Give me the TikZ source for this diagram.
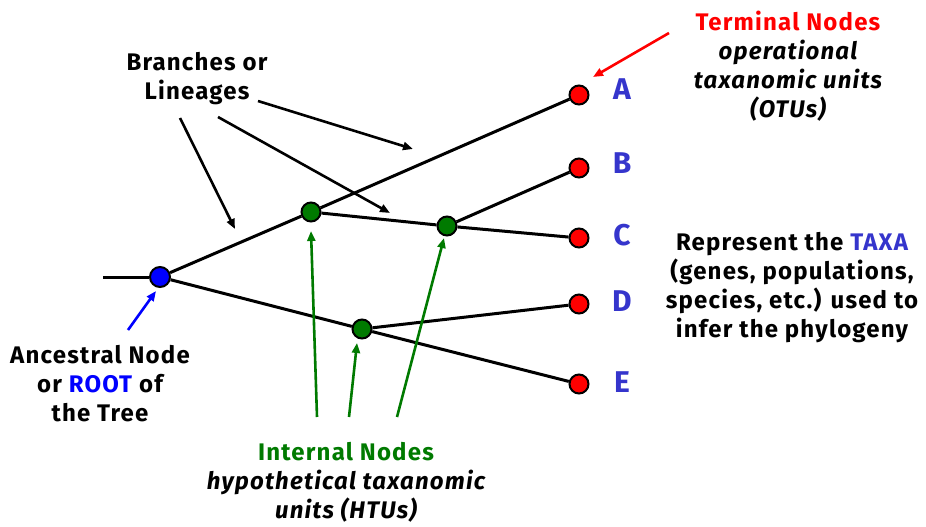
\documentclass[tikz,border=0pt]{standalone}
\usepackage{fontspec}
\setmainfont{Fira Sans}[LetterSpace=5]
\usetikzlibrary{arrows.meta}
\definecolor{tred}{HTML}{FF0000}
\definecolor{tgreen}{HTML}{007A00}
\definecolor{tblue}{HTML}{0000FF}
\definecolor{lblue}{HTML}{3535CC}
\begin{document}
\begin{tikzpicture}[x=1pt,y=-1pt,
  txt/.style={font=\bfseries\fontsize{24}{29}\selectfont, align=center, inner sep=0pt},
  leaf/.style={circle, draw=black, line width=2pt, fill=tred, minimum size=19pt, inner sep=0pt},
  inner/.style={circle, draw=black, line width=2pt, fill=tgreen, minimum size=19pt, inner sep=0pt},
  rootdot/.style={circle, draw=black, line width=2pt, fill=tblue, minimum size=20pt, inner sep=0pt},
  branch/.style={line width=3pt, black},
  lbl/.style={font=\bfseries\fontsize{30}{30}\selectfont, text=lblue, inner sep=0pt},
  pointer/.style={line width=2.6pt, -{Triangle[length=10pt,width=8pt]}}]
\useasboundingbox (0,0) rectangle (926,527);

% nodes
\node[rootdot] (root) at (160,277) {};
\node[inner] (g1) at (311,212) {};
\node[inner] (g2) at (447,226) {};
\node[inner] (g3) at (362,329) {};
\node[leaf] (A) at (579,95) {};
\node[leaf] (B) at (579,168) {};
\node[leaf] (C) at (579,238) {};
\node[leaf] (D) at (579,304) {};
\node[leaf] (E) at (579,384) {};
\coordinate (stub) at (103,277);

% branches
\draw[branch] (stub) -- (root);
\draw[branch] (root) -- (g1);
\draw[branch] (g1) -- (A);
\draw[branch] (g1) -- (g2);
\draw[branch] (g2) -- (B);
\draw[branch] (g2) -- (C);
\draw[branch] (root) -- (g3);
\draw[branch] (g3) -- (E);
\draw[branch] (g3) -- (D);

% leaf labels
\node[lbl] (lA) at (622,89) {A};
\node[lbl] (lB) at (622,163) {B};
\node[lbl] (lC) at (622,235) {C};
\node[lbl] (lD) at (622,301) {D};
\node[lbl] (lE) at (622,382) {E};

% texts
\node[txt] (branches) at (197,79) {Branches or\\Lineages};
\node[txt] (terminal) at (788,66) {\textcolor{tred}{Terminal Nodes}\\
  {\itshape operational}\\{\itshape taxanomic units}\\{\itshape (OTUs)}};
\node[txt] (taxa) at (792,288) {Represent the \textcolor{lblue}{TAXA}\\(genes, populations,\\species, etc.) used to\\infer the phylogeny};
\node[txt] (ancestral) at (100,384) {Ancestral Node\\or \textcolor{tblue}{ROOT} of\\the Tree};
\node[txt] (internal) at (346,482) {\textcolor{tgreen}{Internal Nodes}\\{\itshape hypothetical taxanomic}\\{\itshape units (HTUs)}};

% pointer arrows
\coordinate (b1s) at (180,118); \coordinate (b1e) at (235,229);
\coordinate (b2s) at (218,117); \coordinate (b2e) at (390,213);
\coordinate (b3s) at (258,101); \coordinate (b3e) at (413,149);
\draw[pointer] (b1s) -- (b1e);
\draw[pointer] (b2s) -- (b2e);
\draw[pointer] (b3s) -- (b3e);

\coordinate (rs) at (669,33); \coordinate (re) at (593,77);
\draw[pointer, tred] (rs) -- (re);

\coordinate (as) at (128,330); \coordinate (ae) at (156,291);
\draw[pointer, tblue] (as) -- (ae);

\coordinate (i1) at (317,417); \coordinate (i1e) at (311,231);
\coordinate (i2) at (349,417); \coordinate (i2e) at (357,343);
\coordinate (i3) at (397,417); \coordinate (i3e) at (444,238);
\draw[pointer, tgreen] (i1) -- (i1e);
\draw[pointer, tgreen] (i2) -- (i2e);
\draw[pointer, tgreen] (i3) -- (i3e);
\end{tikzpicture}
\end{document}
